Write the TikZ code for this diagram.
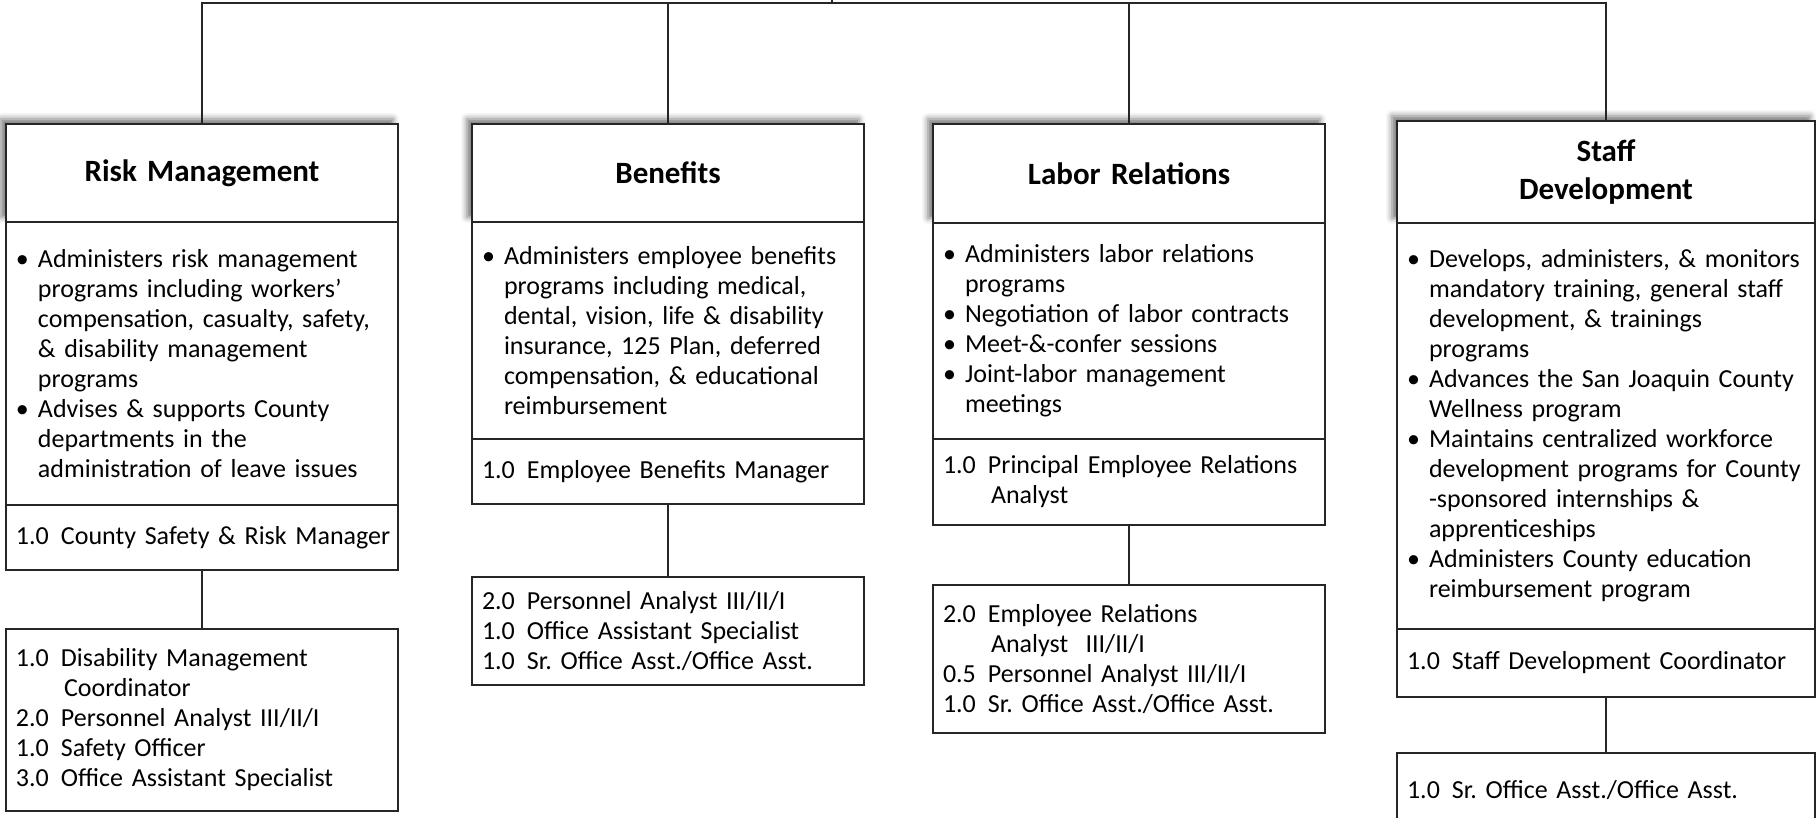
\documentclass[tikz,border=0pt]{standalone}
\usepackage{fontspec}
\setmainfont{Carlito}
\usetikzlibrary{positioning,shadows.blur}

\newcommand{\bul}{\makebox[22pt][l]{\textbullet}}
\newcommand{\bulc}{\hspace*{22pt}}
\newcommand{\fte}[1]{\makebox[45pt][l]{#1}}
\newcommand{\ftec}{\hspace*{48pt}}

\tikzset{
  line/.style={draw=black!85, line width=1.2pt},
  box/.style={line, fill=white, outer sep=0pt, inner xsep=10pt, inner ysep=0pt,
    align=left, font=\frenchspacing\fontsize{26}{30}\selectfont},
  head/.style={box, align=center, text width=#1,
    font=\bfseries\fontsize{31}{38}\selectfont,
    blur shadow={shadow xshift=-5pt, shadow yshift=5pt, shadow blur radius=6pt, shadow opacity=55}},
}

\begin{document}
\begin{tikzpicture}[x=1pt, y=-1pt]
    \useasboundingbox (0,0) rectangle (1818,817);

    % Risk Management
    \node[head=372pt, minimum height=98pt, anchor=north] (risk) at (202,124) {Risk Management};
    \node[box, text width=372pt, minimum height=283pt, below=0pt of risk] (riskbody) {%
      \bul Administers risk management\\
      \bulc programs including workers’\\
      \bulc compensation, casualty, safety,\\
      \bulc \& disability management\\
      \bulc programs\\
      \bul Advises \& supports County\\
      \bulc departments in the\\
      \bulc administration of leave issues};
    \node[box, text width=372pt, minimum height=65pt, below=0pt of riskbody] (riskmgr)
      {\mbox{\fte{1.0}County Safety \& Risk Manager}};
    \node[box, text width=372pt, minimum height=182pt, below=59pt of riskmgr] (riskstaff) {%
      \fte{1.0}Disability Management\\
      \ftec Coordinator\\
      \fte{2.0}Personnel Analyst III/II/I\\
      \fte{1.0}Safety Officer\\
      \fte{3.0}Office Assistant Specialist};

    % Benefits
    \node[head=372pt, minimum height=98pt, anchor=north] (ben) at (668,124) {Benefits};
    \node[box, text width=372pt, minimum height=217pt, below=0pt of ben] (benbody) {%
      \bul Administers employee benefits\\
      \bulc programs including medical,\\
      \bulc dental, vision, life \& disability\\
      \bulc insurance, 125 Plan, deferred\\
      \bulc compensation, \& educational\\
      \bulc reimbursement};
    \node[box, text width=372pt, minimum height=65pt, below=0pt of benbody] (benmgr)
      {\fte{1.0}Employee Benefits Manager};
    \node[box, text width=372pt, minimum height=108pt, below=73pt of benmgr] (benstaff) {%
      \fte{2.0}Personnel Analyst III/II/I\\
      \fte{1.0}Office Assistant Specialist\\
      \fte{1.0}Sr. Office Asst./Office Asst.};

    % Labor Relations
    \node[head=372pt, minimum height=99pt, anchor=north] (lab) at (1129,124) {Labor Relations};
    \node[box, text width=372pt, minimum height=216pt, below=0pt of lab] (labbody) {%
      \bul Administers labor relations\\
      \bulc programs\\
      \bul Negotiation of labor contracts\\
      \bul Meet-\&-confer sessions\\
      \bul Joint-labor management\\
      \bulc meetings};
    \node[box, text width=372pt, minimum height=86pt, below=0pt of labbody] (labmgr) {%
      \fte{1.0}Principal Employee Relations\\
      \ftec Analyst};
    \node[box, text width=372pt, minimum height=148pt, below=60pt of labmgr] (labstaff) {%
      \fte{2.0}Employee Relations\\
      \ftec Analyst\ \ III/II/I\\
      \fte{0.5}Personnel Analyst III/II/I\\
      \fte{1.0}Sr. Office Asst./Office Asst.};

    % Staff Development
    \node[head=398pt, minimum height=102pt, anchor=north] (sd) at (1606,121) {Staff\\Development};
    \node[box, text width=398pt, minimum height=406pt, below=0pt of sd] (sdbody) {%
      \bul Develops, administers, \& monitors\\
      \bulc mandatory training, general staff\\
      \bulc development, \& trainings\\
      \bulc programs\\
      \bul Advances the San Joaquin County\\
      \bulc Wellness program\\
      \bul Maintains centralized workforce\\
      \bulc development programs for County\\
      \bulc -sponsored internships \&\\
      \bulc apprenticeships\\
      \bul Administers County education\\
      \bulc reimbursement program};
    \node[box, text width=398pt, minimum height=68pt, below=0pt of sdbody] (sdmgr)
      {\fte{1.0}Staff Development Coordinator};
    \node[box, text width=398pt, minimum height=74pt, below=56pt of sdmgr] (sdstaff)
      {\fte{1.0}Sr. Office Asst./Office Asst.};

    % connectors
    \coordinate (bus) at (832,3);
    \coordinate (up) at (832,0);
    \draw[line] (risk.north) |- (bus) -| (sd.north);
    \draw[line] (ben.north) |- (bus);
    \draw[line] (lab.north) |- (bus);
    \draw[line] (bus) -- (up);
    \draw[line] (riskmgr) -- (riskstaff);
    \draw[line] (benmgr) -- (benstaff);
    \draw[line] (labmgr) -- (labstaff);
    \draw[line] (sdmgr) -- (sdstaff);
\end{tikzpicture}
\end{document}
